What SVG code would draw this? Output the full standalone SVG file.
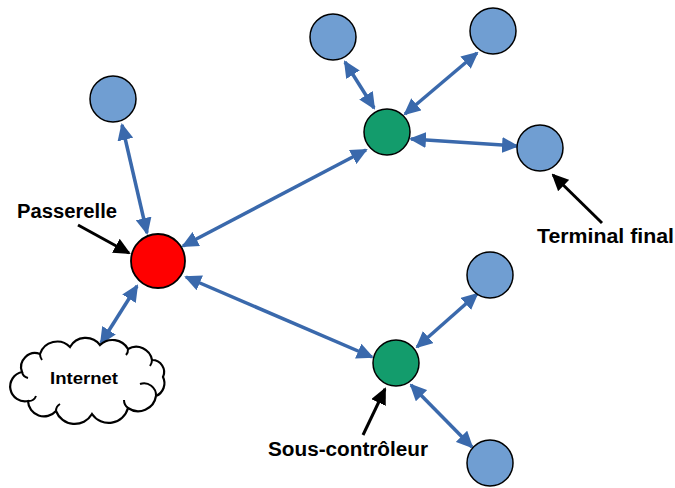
<svg xmlns="http://www.w3.org/2000/svg" width="675" height="488" viewBox="0 0 675 488">
<style>
.conn{stroke:#3A69AC;stroke-width:3.5;fill:none;marker-start:url(#bh);marker-end:url(#bh)}
.call{stroke:#000;stroke-width:3;fill:none;marker-end:url(#kh)}
.leaf{fill:#709ED2;stroke:#000;stroke-width:1.5}
.sub{fill:#139C6C;stroke:#000;stroke-width:1.5}
.gw{fill:#FF0000;stroke:#000;stroke-width:1.8}
.lbl{font-family:"Liberation Sans",Arial,sans-serif;font-weight:bold;fill:#000}
</style>
<defs>
<marker id="bh" markerUnits="userSpaceOnUse" markerWidth="17" markerHeight="16" refX="15" refY="8" orient="auto-start-reverse" viewBox="0 0 17 16">
<path d="M0,0 L17,8 L0,16 Z" fill="#3A69AC"/>
</marker>
<marker id="kh" markerUnits="userSpaceOnUse" markerWidth="17" markerHeight="16" refX="15" refY="8" orient="auto" viewBox="0 0 17 16">
<path d="M0,0 L17,8 L0,16 Z" fill="#000"/>
</marker>
</defs>
<g id="connectors">
<line class="conn" x1="122" y1="125" x2="147" y2="233"/>
<line class="conn" x1="183" y1="246" x2="366" y2="150"/>
<line class="conn" x1="186" y1="277" x2="372" y2="357"/>
<line class="conn" x1="137" y1="286" x2="101" y2="343"/>
<line class="conn" x1="345" y1="62" x2="374" y2="108"/>
<line class="conn" x1="477" y1="53" x2="405" y2="114"/>
<line class="conn" x1="411" y1="139" x2="517" y2="146"/>
<line class="conn" x1="477" y1="294" x2="417" y2="347"/>
<line class="conn" x1="411" y1="385" x2="472" y2="447"/>
<line class="call" x1="78" y1="225" x2="129" y2="253"/>
<line class="call" x1="602" y1="223" x2="553" y2="175"/>
<line class="call" x1="363" y1="435" x2="385" y2="389"/>
</g>
<g id="gateway"><circle class="gw" cx="158" cy="261" r="27"/></g>
<g id="leaf-tl"><circle class="leaf" cx="113" cy="99" r="23"/></g>
<g id="sub-top"><circle class="sub" cx="387" cy="132" r="23"/></g>
<g id="leaf-t1"><circle class="leaf" cx="333" cy="37" r="23"/></g>
<g id="leaf-t2"><circle class="leaf" cx="493" cy="31" r="23"/></g>
<g id="leaf-r"><circle class="leaf" cx="540" cy="148" r="23"/></g>
<g id="sub-bottom"><circle class="sub" cx="396" cy="363" r="23"/></g>
<g id="leaf-b1"><circle class="leaf" cx="490" cy="275" r="23"/></g>
<g id="leaf-b2"><circle class="leaf" cx="490" cy="463" r="23"/></g>
<g id="internet">
<path d="M22,372 A14,14 0 0 1 40,354 A18,18 0 0 1 70,347 A18,18 0 0 1 100,345 A18,18 0 0 1 128,349 A16,16 0 0 1 152,360 A12,12 0 0 1 163,377 A14,14 0 0 1 156,396 A18,18 0 0 1 128,408 A20,20 0 0 1 92,414 A20,20 0 0 1 56,411 A16,16 0 0 1 28,401 A11,11 0 0 1 22,372 Z" fill="#fff" stroke="#000" stroke-width="2.2"/>
<path d="M22,372 A8,8 0 0 0 28,378 M40,354 A10,10 0 0 0 42,360 M128,349 A8,8 0 0 1 126,355 M152,360 A10,10 0 0 1 150,366 M156,396 A12,12 0 0 0 140,384 M128,408 A10,10 0 0 1 124,400 M56,411 A8,8 0 0 1 60,404 M28,401 A8,8 0 0 0 36,396" fill="none" stroke="#000" stroke-width="2"/>
<text class="lbl" x="84" y="384" font-size="16" text-anchor="middle" textLength="68" lengthAdjust="spacingAndGlyphs">Internet</text>
</g>
<g id="labels">
<text class="lbl" x="17" y="218" font-size="20" textLength="100" lengthAdjust="spacingAndGlyphs">Passerelle</text>
<text class="lbl" x="537" y="243" font-size="20" textLength="137" lengthAdjust="spacingAndGlyphs">Terminal final</text>
<text class="lbl" x="268" y="456" font-size="20" textLength="160" lengthAdjust="spacingAndGlyphs">Sous-contrôleur</text>
</g>
</svg>
